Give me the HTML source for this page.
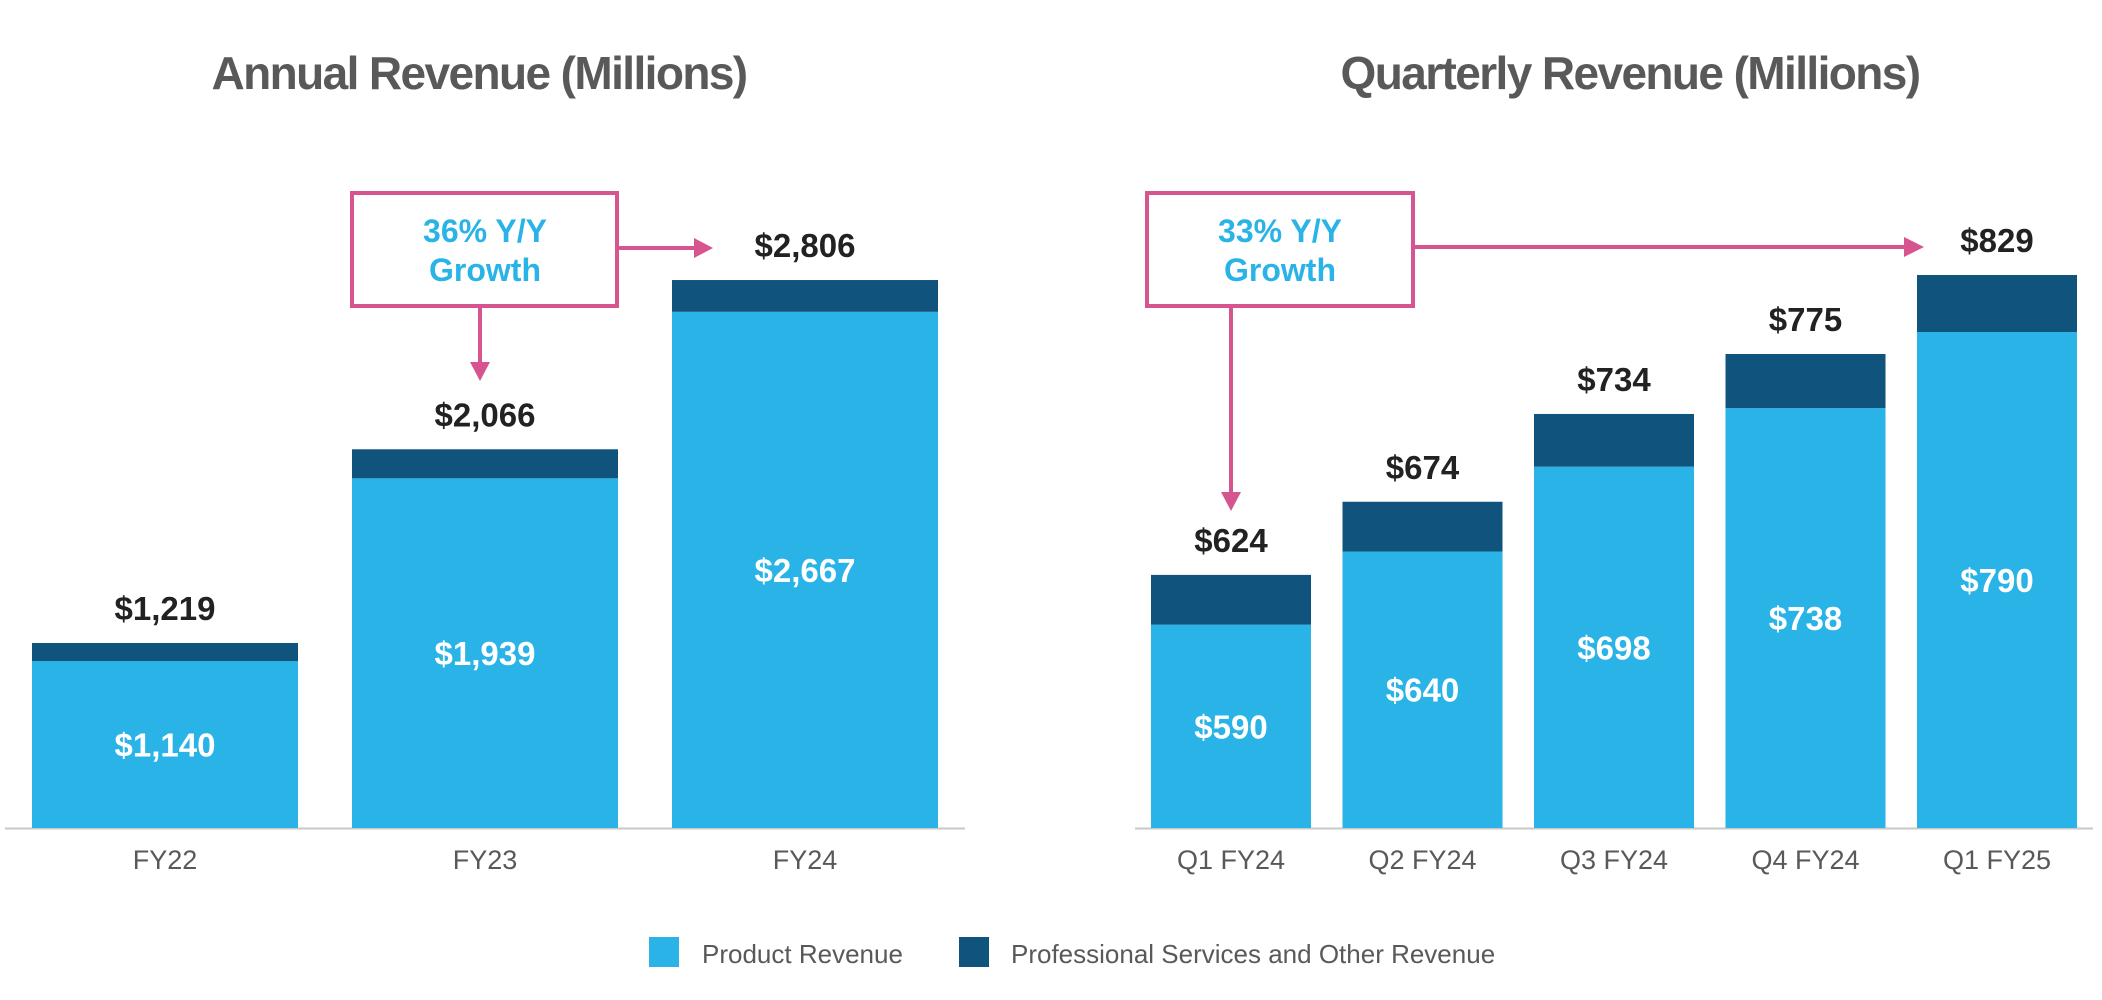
<!DOCTYPE html>
<html><head><meta charset="utf-8"><style>
html,body{margin:0;padding:0;background:#fff;}
svg{display:block;font-family:"Liberation Sans",Arial,sans-serif;}
</style></head><body>
<svg id="chart" width="2102" height="1000" viewBox="0 0 2102 1000">
<text x="479" y="89" text-anchor="middle" font-size="46" font-weight="bold" fill="#595959" letter-spacing="-1.6">Annual Revenue (Millions)</text>
<text x="1630" y="89" text-anchor="middle" font-size="46" font-weight="bold" fill="#595959" letter-spacing="-1.6">Quarterly Revenue (Millions)</text>
<line x1="5" y1="828.5" x2="965" y2="828.5" stroke="#c8c8c8" stroke-width="2"/>
<line x1="1135" y1="828.5" x2="2093" y2="828.5" stroke="#c8c8c8" stroke-width="2"/>
<g id="annual"></g>
<g id="quarterly"></g>
<g>
<rect x="352" y="193" width="265" height="113" fill="#fff" stroke="#d6558f" stroke-width="4"/>
<text x="485" y="242" text-anchor="middle" font-size="32" font-weight="bold" fill="#29b3e6">36% Y/Y</text>
<text x="485" y="281" text-anchor="middle" font-size="32" font-weight="bold" fill="#29b3e6">Growth</text>
<line x1="617" y1="248" x2="696" y2="248" stroke="#d6558f" stroke-width="4"/>
<polygon points="694,238 713,248 694,258" fill="#d6558f"/>
<line x1="480" y1="306" x2="480" y2="364" stroke="#d6558f" stroke-width="4"/>
<polygon points="470,362 490,362 480,381" fill="#d6558f"/>
</g>
<g>
<rect x="1147" y="193" width="266" height="113" fill="#fff" stroke="#d6558f" stroke-width="4"/>
<text x="1280" y="242" text-anchor="middle" font-size="32" font-weight="bold" fill="#29b3e6">33% Y/Y</text>
<text x="1280" y="281" text-anchor="middle" font-size="32" font-weight="bold" fill="#29b3e6">Growth</text>
<line x1="1413" y1="247" x2="1906" y2="247" stroke="#d6558f" stroke-width="4"/>
<polygon points="1904,237 1924,247 1904,257" fill="#d6558f"/>
<line x1="1231" y1="306" x2="1231" y2="494" stroke="#d6558f" stroke-width="4"/>
<polygon points="1221,492 1241,492 1231,511" fill="#d6558f"/>
</g>
<g>
<rect x="649" y="937" width="30" height="30" fill="#29b3e6"/>
<text x="702" y="963" font-size="26" fill="#595959">Product Revenue</text>
<rect x="959" y="937" width="30" height="30" fill="#10537c"/>
<text x="1011" y="963" font-size="26" fill="#595959">Professional Services and Other Revenue</text>
</g>
</svg>
<script>
const annualCats = ["FY22","FY23","FY24"];
const annualProduct = [1140,1939,2667];
const annualTotal = [1219,2066,2806];
const quarterCats = ["Q1 FY24","Q2 FY24","Q3 FY24","Q4 FY24","Q1 FY25"];
const quarterProduct = [590,640,698,738,790];
const quarterTotal = [624,674,734,775,829];

const NS = "http://www.w3.org/2000/svg";
function mk(parent, tag, attrs, txt) {
  const e = document.createElementNS(NS, tag);
  for (const k in attrs) e.setAttribute(k, attrs[k]);
  if (txt !== undefined) e.textContent = txt;
  parent.appendChild(e);
  return e;
}
function fmt(v){ return "$" + v.toLocaleString("en-US"); }

function draw(gId, cats, prod, tot, x0, step, bw, base, vmin, ppu, prefix) {
  const g = document.getElementById(gId);
  const y = v => base - (v - vmin) * ppu;
  cats.forEach((c, i) => {
    const x = x0 + i * step;
    const cx = x + bw / 2;
    const yp = y(prod[i]), yt = y(tot[i]);
    const r1 = mk(g, "rect", {x: x, y: yp, width: bw, height: base - yp, fill: "#29b3e6"});
    
    
    const r2 = mk(g, "rect", {x: x, y: yt, width: bw, height: yp - yt, fill: "#10537c"});
    
    
    const t1 = mk(g, "text", {x: cx, y: yt - 23, "text-anchor": "middle", "font-size": 33, "font-weight": "bold", fill: "#222"}, fmt(tot[i]));
    
    
    const t2 = mk(g, "text", {x: cx, y: (yp + base) / 2 + 12, "text-anchor": "middle", "font-size": 33, "font-weight": "bold", fill: "#fff"}, fmt(prod[i]));
    
    
    const t3 = mk(g, "text", {x: cx, y: 869, "text-anchor": "middle", "font-size": 27, fill: "#595959"}, c);
    
    
  });
}
draw("annual", annualCats, annualProduct, annualTotal, 32, 320, 266, 828, 410, 0.2287, "annual");
draw("quarterly", quarterCats, quarterProduct, quarterTotal, 1151, 191.5, 160, 828, 451, 1.463, "quarterly");
</script>
</body></html>
